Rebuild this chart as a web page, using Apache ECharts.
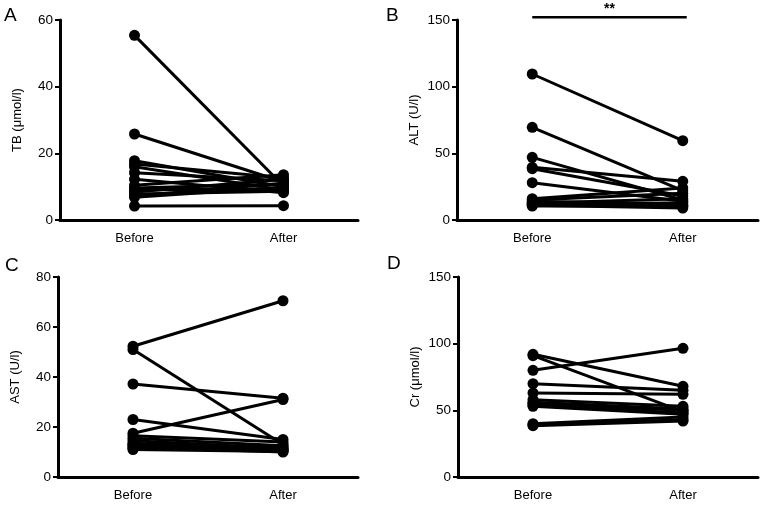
<!DOCTYPE html>
<html><head><meta charset="utf-8">
<script src="https://cdn.jsdelivr.net/npm/echarts@6/dist/echarts.min.js"></script>
<style>html,body{margin:0;padding:0;background:#fff}#c{width:765px;height:505px}</style>
</head><body><div id="c"></div>
<script>
const categories = ['Before', 'After'];
// Panel A: TB (μmol/l)
const tbBefore = [55.4, 25.8, 17.8, 16.8, 16.0, 14.2, 12.2, 10.4, 9.6, 9.0, 8.4, 7.8, 7.2, 6.8, 4.2];
const tbAfter  = [10.2, 11.4, 10.0, 12.6, 9.0, 11.8, 8.2, 13.6, 10.8, 9.4, 12.2, 8.6, 11.0, 9.8, 4.3];
// Panel B: ALT (U/l)
const altBefore = [109.5, 69.5, 47, 39.5, 38.5, 28, 16, 15, 14, 13, 12.5, 12, 11.5, 11, 10.5];
const altAfter  = [59.5, 22, 15, 29, 18, 14, 24, 20, 12, 11, 16, 10, 13, 9, 10.5];
// Panel C: AST (U/l)
const astBefore = [52.3, 51.0, 37.2, 23.0, 17.5, 16.5, 15.5, 14.5, 13.5, 13.0, 12.5, 12.0, 11.5, 11.0];
const astAfter  = [70.5, 13.0, 31.5, 15.0, 31.0, 14.0, 12.5, 11.5, 11.0, 12.0, 10.5, 10.0, 11.0, 10.2];
// Panel D: Cr (μmol/l)
const crBefore = [92, 91, 80, 70, 63, 58, 56, 55, 54, 53, 40, 39, 38.5];
const crAfter  = [68, 49, 96.5, 65, 62, 53, 51, 50, 48, 47, 45, 43, 42];

const yTicksA = {min: 0, max: 60, interval: 20};
const yTicksB = {min: 0, max: 150, interval: 50};
const yTicksC = {min: 0, max: 80, interval: 20};
const yTicksD = {min: 0, max: 150, interval: 50};

const panels = [
  {label: 'A', name: 'TB (\u03bcmol/l)', before: tbBefore, after: tbAfter, ticks: yTicksA, grid: {left: 60, top: 20, width: 298, height: 200}, lab: [4, 6]},
  {label: 'B', name: 'ALT (U/l)', before: altBefore, after: altAfter, ticks: yTicksB, grid: {left: 457, top: 20, width: 301, height: 200}, lab: [386, 6]},
  {label: 'C', name: 'AST (U/l)', before: astBefore, after: astAfter, ticks: yTicksC, grid: {left: 58, top: 277, width: 300, height: 200}, lab: [5, 256]},
  {label: 'D', name: 'Cr (\u03bcmol/l)', before: crBefore, after: crAfter, ticks: yTicksD, grid: {left: 458, top: 277, width: 300, height: 200}, lab: [387, 254]}
];

const font = 'Liberation Sans, Arial, Helvetica, sans-serif';
const chart = echarts.init(document.getElementById('c'), null, {renderer: 'canvas'});
const grids = [], xAxes = [], yAxes = [], series = [], titles = [];
panels.forEach((p, i) => {
  grids.push(Object.assign({containLabel: false}, p.grid));
  xAxes.push({
    type: 'category', gridIndex: i, data: categories, boundaryGap: true,
    axisLine: {lineStyle: {color: '#000', width: 3}},
    axisTick: {alignWithLabel: true, length: 4, lineStyle: {color: '#000', width: 2}},
    axisLabel: {color: '#000', fontSize: 13, fontFamily: font, margin: 12},
    splitLine: {show: false}
  });
  yAxes.push({
    type: 'value', gridIndex: i, min: p.ticks.min, max: p.ticks.max, interval: p.ticks.interval,
    name: p.name, nameLocation: 'middle', nameRotate: 90, nameGap: 36,
    nameTextStyle: {color: '#000', fontSize: 13, fontFamily: font},
    axisLine: {show: true, lineStyle: {color: '#000', width: 3}},
    axisTick: {show: true, length: 5, lineStyle: {color: '#000', width: 2}},
    axisLabel: {color: '#000', fontSize: 13.5, fontFamily: font, margin: 7},
    splitLine: {show: false}
  });
  p.before.forEach((b, k) => {
    series.push({
      type: 'line', xAxisIndex: i, yAxisIndex: i, data: [b, p.after[k]],
      symbol: 'circle', symbolSize: 11, clip: false,
      lineStyle: {color: '#000', width: 3}, itemStyle: {color: '#000'},
      animation: false, silent: true
    });
  });
  titles.push({text: p.label, left: p.lab[0], top: p.lab[1], padding: 0,
    textStyle: {color: '#000', fontSize: 19, fontWeight: 'normal', fontFamily: font}});
});

chart.setOption({
  animation: false,
  backgroundColor: '#fff',
  title: titles,
  grid: grids, xAxis: xAxes, yAxis: yAxes, series: series
});

// significance bar for panel B
const pB = chart.convertToPixel({xAxisIndex: 1, yAxisIndex: 1}, ['Before', 152]);
const pA = chart.convertToPixel({xAxisIndex: 1, yAxisIndex: 1}, ['After', 152]);
chart.setOption({
  graphic: [
    {type: 'line', shape: {x1: pB[0], y1: pB[1], x2: pA[0] + 4, y2: pA[1]}, style: {stroke: '#000', lineWidth: 2.5}},
    {type: 'text', x: (pB[0] + pA[0]) / 2 + 2, y: pB[1] - 1, style: {text: '**', fill: '#000', font: 'bold 14px ' + font, textAlign: 'center', textVerticalAlign: 'bottom'}}
  ]
});
</script></body></html>
